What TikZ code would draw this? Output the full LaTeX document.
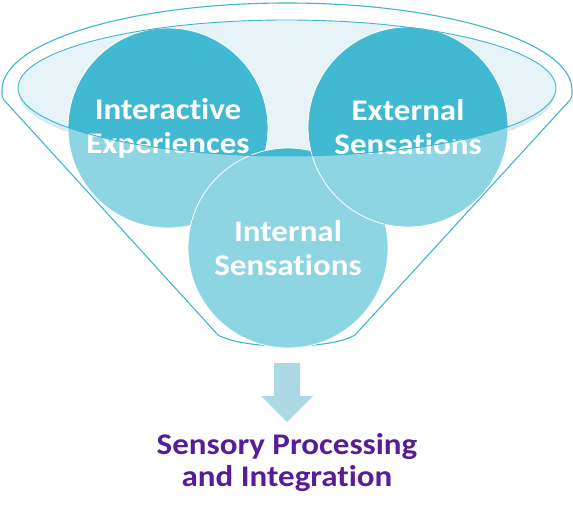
\documentclass[tikz,border=0pt]{standalone}
\usepackage{fontspec}
\setmainfont{Carlito}
\newfontfamily\diagfont[FakeStretch=1.1, Ligatures={NoCommon, NoRare}]{Carlito}
\usepackage{xcolor}
\usepackage{tikz}
\usetikzlibrary{calc, positioning}

\definecolor{funnelline}{HTML}{40B5CF}
\definecolor{funnelfill}{HTML}{E6F3F7}
\definecolor{funnelshade}{HTML}{D4EBF1}
\definecolor{bubbledark}{HTML}{42B9D3}
\definecolor{bubblelight}{HTML}{8DD5E3}
\definecolor{arrowblue}{HTML}{ABD9E6}
\definecolor{resultpurple}{HTML}{561D96}

\tikzset{
    bubble/.style={fill=bubblelight, draw=white, line width=0.8pt},
    bubbletop/.style={fill=bubbledark, draw=white, line width=0.8pt},
    bubbletext/.style={text=white, align=center, font=\diagfont\bfseries\fontsize{30}{34}\selectfont},
}

\begin{document}
\begin{tikzpicture}[x=1pt, y=-1pt]
    \useasboundingbox (0,0) rectangle (573,516);

    % Tâm các hình tròn
    \coordinate (interactive) at (168,128);
    \coordinate (internal) at (288,248);
    \coordinate (external) at (408,127);

    % Viền ngoài của phễu
    \draw[funnelline, line width=1.1pt]
        (218,335) -- (4,100) .. controls (2,97) .. (2,90)
        arc[start angle=180, end angle=360, x radius=285, y radius=87]
        .. controls (572,97) .. (570,100) -- (355,335)
        .. controls (330,350) and (245,350) .. (218,335) -- cycle;

    % Miệng phễu
    \fill[funnelshade] (287,93) ellipse[x radius=268, y radius=68];
    \fill[funnelfill] (287,88) ellipse[x radius=269, y radius=68];

    % Ba hình tròn
    \draw[bubble] (interactive) circle[radius=100];
    \draw[bubble] (internal) circle[radius=100];
    \draw[bubble] (external) circle[radius=100];

    % Phần hình tròn nằm trong miệng phễu
    \begin{scope}
        \clip (287,88) ellipse[x radius=269, y radius=68];
        \draw[bubbletop] (interactive) circle[radius=100];
        \draw[bubbletop] (internal) circle[radius=100];
        \draw[bubbletop] (external) circle[radius=100];
    \end{scope}

    % Nhãn
    \node[bubbletext] (interactivetext) at (interactive) {Interactive\\Experiences};
    \node[bubbletext] (externaltext) at (external) {External\\Sensations};
    \node[bubbletext] (internaltext) at (internal) {Internal\\Sensations};

    \draw[funnelline, line width=0.9pt] (287,88) ellipse[x radius=269, y radius=68];

    % Mũi tên xuống
    \fill[arrowblue] (274,363) -- (300,363) -- (300,396) -- (313,396)
        -- (287,422) -- (261,396) -- (274,396) -- cycle;

    \node[text=resultpurple, align=center, font=\diagfont\bfseries\fontsize{30}{32}\selectfont]
        (result) at (287,463) {Sensory Processing\\and Integration};
\end{tikzpicture}
\end{document}
